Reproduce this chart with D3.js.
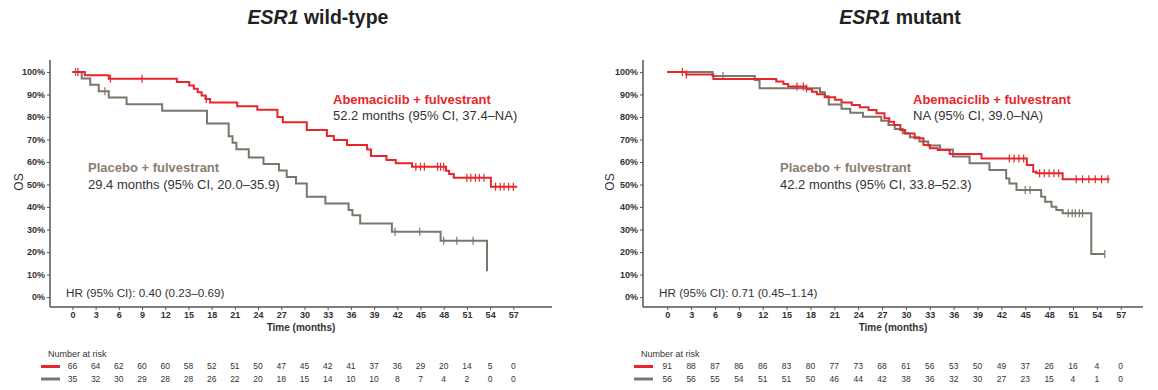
<!DOCTYPE html>
<html lang="en">
<head>
<meta charset="UTF-8">
<title>ESR1 OS curves</title>
<style>
  body { margin: 0; background: #fff; }
  svg { font-family: "Liberation Sans", Arial, sans-serif; }
  .tick text { font-size: 9px; font-weight: bold; fill: #333; }
  .domain, .tick line { stroke: #555; }
</style>
</head>
<body>
<script src="https://d3js.org/d3.v7.min.js"></script>
<script>
// months shown on the x axis and in the risk table
const timeTicks = d3.range(0, 58, 3);
const pctTicks = d3.range(0, 101, 10);

// ESR1 wild-type: [month, OS %] after each step
const wtAbemaSteps = [[0,100],[1.6,98.5],[4.7,97.0],[13.5,95.5],[15.1,94.0],[15.7,92.5],[16.2,91.0],[16.7,89.5],[17.2,88.0],[17.8,86.4],[21.3,84.8],[23.9,83.2],[26.5,80.0],[27.2,77.6],[30.3,74.2],[32.9,71.5],[33.8,69.8],[35.5,67.6],[38.1,65.6],[38.6,62.7],[40.6,60.9],[41.8,59.4],[43.9,57.9],[48.3,56.1],[48.7,54.7],[49.3,53.0],[54.1,49.0]];
const wtAbemaEnd = 57.5;
const wtAbemaCens = [0.7,4.9,9.0,17.3,44.4,45.0,45.5,47.2,47.6,48.0,51.0,51.5,52.1,52.6,53.2,54.7,55.3,55.8,56.4,57.0];
const wtPlaceboSteps = [[0,100],[1.2,97.1],[2.3,94.3],[3.4,91.4],[4.7,88.6],[7.0,85.7],[11.6,82.8],[17.4,77.1],[20.2,71.4],[20.7,68.5],[21.2,65.7],[22.8,62.0],[24.7,59.1],[26.7,56.2],[27.7,53.3],[28.9,50.4],[30.3,44.6],[32.7,41.6],[35.7,38.7],[36.2,36.4],[37.2,32.7],[41.3,29.0],[47.6,25.0],[53.6,11.5]];
const wtPlaceboEnd = 53.6;
const wtPlaceboCens = [0.4,4.2,41.7,44.9,48.0,49.7,51.8];
const wtRiskAbema = [66,64,62,60,60,58,52,51,50,47,45,42,41,37,36,29,20,14,5,0];
const wtRiskPlacebo = [35,32,30,29,28,28,26,22,20,18,15,14,10,10,8,7,4,2,0,0];

// ESR1 mutant
const mutAbemaSteps = [[0,100],[2.4,98.9],[5.8,96.9],[13.7,95.7],[14.6,94.6],[15.2,93.5],[17.5,92.3],[18.2,91.2],[18.8,90.1],[19.8,88.8],[21.1,87.6],[21.9,86.4],[23.2,85.3],[24.2,84.3],[25.3,83.1],[26.3,81.6],[27.3,79.4],[27.9,77.9],[28.5,76.4],[29.3,74.2],[29.9,72.7],[31.1,70.5],[32.2,67.6],[33.0,66.1],[34.0,65.3],[35.5,63.6],[39.5,61.6],[45.2,58.7],[46.0,55.7],[46.4,55.0],[49.7,52.3]];
const mutAbemaEnd = 55.6;
const mutAbemaCens = [1.9,2.4,16.3,17.1,43.0,43.6,44.2,44.8,46.8,47.4,48.0,48.6,49.2,51.4,52.2,53.0,53.8,54.6,55.4];
const mutPlaceboSteps = [[0,100],[5.7,98.2],[11.0,96.4],[11.6,92.7],[19.2,91.0],[19.8,89.2],[20.3,85.5],[21.9,83.7],[23.0,81.9],[24.6,80.1],[26.9,78.3],[27.8,76.4],[28.6,74.6],[29.6,72.8],[30.5,71.0],[31.7,69.1],[32.8,67.3],[34.3,65.5],[35.9,62.4],[38.0,59.4],[40.5,56.4],[42.6,52.7],[43.0,50.5],[43.9,47.6],[47.0,44.6],[47.5,42.4],[48.3,40.1],[48.9,38.7],[49.7,37.2],[53.3,19.1]];
const mutPlaceboEnd = 55.0;
const mutPlaceboCens = [7.0,17.5,45.0,45.6,50.4,50.9,51.3,51.8,52.2,55.0];
const mutRiskAbema = [91,88,87,86,86,83,80,77,73,68,61,56,53,50,49,37,26,16,4,0];
const mutRiskPlacebo = [56,56,55,54,51,51,50,46,44,42,38,36,32,30,27,23,15,4,1,0];

const red = "#e6262b";
const grey = "#7b756b";
const greyText = "#8a7e70";

const W = 1158, H = 390;
const svg = d3.select("body").append("svg").attr("width", W).attr("height", H);

const panels = [
  {
    left: 50, right: 552, dom: [-2.9, 62], titleX: 318, title: " wild-type",
    abema: wtAbemaSteps, abemaEnd: wtAbemaEnd, abemaCens: wtAbemaCens,
    placebo: wtPlaceboSteps, placeboEnd: wtPlaceboEnd, placeboCens: wtPlaceboCens,
    riskA: wtRiskAbema, riskP: wtRiskPlacebo,
    abemaLbl: [333, "52.2 months (95% CI, 37.4\u2013NA)"],
    placeboLbl: [88, "29.4 months (95% CI, 20.0\u201335.9)"],
    hr: [66, "HR (95% CI): 0.40 (0.23\u20130.69)"], osX: 19
  },
  {
    left: 643, right: 1143, dom: [-3.05, 59.8], titleX: 900, title: " mutant",
    abema: mutAbemaSteps, abemaEnd: mutAbemaEnd, abemaCens: mutAbemaCens,
    placebo: mutPlaceboSteps, placeboEnd: mutPlaceboEnd, placeboCens: mutPlaceboCens,
    riskA: mutRiskAbema, riskP: mutRiskPlacebo,
    abemaLbl: [913, "NA (95% CI, 39.0\u2013NA)"],
    placeboLbl: [780, "42.2 months (95% CI, 33.8\u201352.3)"],
    hr: [659, "HR (95% CI): 0.71 (0.45\u20131.14)"], osX: 610
  }
];

const y = d3.scaleLinear().domain([-4.4, 105.3]).range([307, 60]);

panels.forEach(p => {
  const x = d3.scaleLinear().domain(p.dom).range([p.left, p.right]);
  const g = svg.append("g");

  // title
  const t = g.append("text").attr("x", p.titleX).attr("y", 24)
    .attr("text-anchor", "middle").attr("font-size", 19.5).attr("font-weight", "bold").attr("fill", "#222");
  t.append("tspan").attr("font-style", "italic").text("ESR1");
  t.append("tspan").text(p.title);

  // axes
  g.append("g").attr("transform", `translate(0,307)`)
    .call(d3.axisBottom(x).tickValues(timeTicks).tickSize(3).tickPadding(2).tickSizeOuter(0))
    .call(a => a.select(".domain").attr("d", `M${p.left},0H${p.right}`).attr("stroke-width", 1.5));
  g.append("g").attr("transform", `translate(${p.left},0)`)
    .call(d3.axisLeft(y).tickValues(pctTicks).tickFormat(d => d + "%").tickSize(3).tickPadding(2).tickSizeOuter(0))
    .call(a => a.select(".domain").attr("d", `M0,60V307`).attr("stroke-width", 1.5));

  g.append("text").attr("x", (p.left + p.right) / 2).attr("y", 331)
    .attr("text-anchor", "middle").attr("font-size", 10).attr("font-weight", "bold").attr("fill", "#333")
    .text("Time (months)");
  g.append("text").attr("transform", `translate(${p.osX},182) rotate(-90)`)
    .attr("text-anchor", "middle").attr("dy", "0.35em").attr("font-size", 12).attr("fill", "#333").text("OS");

  // curves
  const line = d3.line().x(d => x(d[0])).y(d => y(d[1])).curve(d3.curveStepAfter);
  const drawCurve = (steps, end, cens, color) => {
    const pts = steps.concat([[end, steps[steps.length - 1][1]]]);
    g.append("path").attr("d", line(pts)).attr("fill", "none")
      .attr("stroke", color).attr("stroke-width", 2);
    const survAt = tm => { let s = 100; steps.forEach(d => { if (d[0] <= tm) s = d[1]; }); return s; };
    g.selectAll(null).data(cens).join("line")
      .attr("x1", d => x(d)).attr("x2", d => x(d))
      .attr("y1", d => y(survAt(d)) - 4).attr("y2", d => y(survAt(d)) + 4)
      .attr("stroke", color).attr("stroke-width", 1.2);
  };
  drawCurve(p.placebo, p.placeboEnd, p.placeboCens, grey);
  drawCurve(p.abema, p.abemaEnd, p.abemaCens, red);

  // annotations
  g.append("text").attr("x", p.abemaLbl[0]).attr("y", 104).attr("font-size", 13)
    .attr("font-weight", "bold").attr("fill", red).text("Abemaciclib + fulvestrant");
  g.append("text").attr("x", p.abemaLbl[0]).attr("y", 120).attr("font-size", 13)
    .attr("fill", "#333").text(p.abemaLbl[1]);
  g.append("text").attr("x", p.placeboLbl[0]).attr("y", 172).attr("font-size", 13)
    .attr("font-weight", "bold").attr("fill", greyText).text("Placebo + fulvestrant");
  g.append("text").attr("x", p.placeboLbl[0]).attr("y", 189).attr("font-size", 13)
    .attr("fill", "#333").text(p.placeboLbl[1]);
  g.append("text").attr("x", p.hr[0]).attr("y", 297).attr("font-size", 11.7)
    .attr("fill", "#333").text(p.hr[1]);

  // number at risk
  g.append("text").attr("x", p.left - 2).attr("y", 357).attr("font-size", 9)
    .attr("fill", "#333").text("Number at risk");
  [[p.riskA, red, 366.5], [p.riskP, grey, 379]].forEach(([vals, color, ry]) => {
    g.append("line").attr("x1", p.left - 9).attr("x2", p.left + 10)
      .attr("y1", ry).attr("y2", ry).attr("stroke", color).attr("stroke-width", 3);
    g.selectAll(null).data(vals).join("text")
      .attr("x", (d, i) => x(timeTicks[i])).attr("y", ry).attr("dy", "0.35em")
      .attr("text-anchor", "middle").attr("font-size", 8.5).attr("fill", "#333").text(d => d);
  });
});
</script>
</body>
</html>
